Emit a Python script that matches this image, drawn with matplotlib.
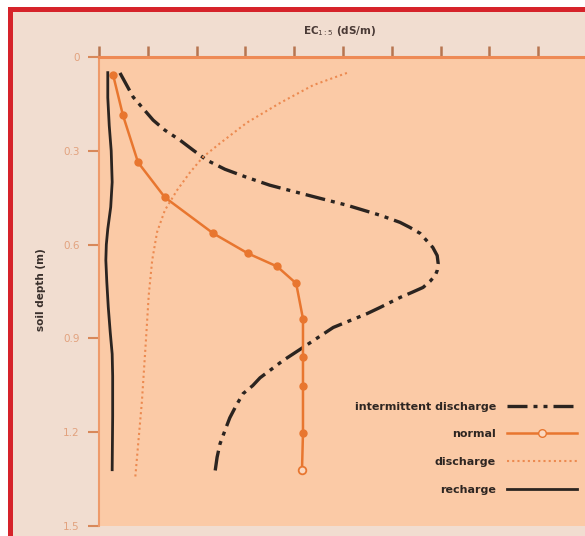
import matplotlib
matplotlib.use("Agg")
import matplotlib.pyplot as plt
from matplotlib.patches import Rectangle

# ---- data (x in tick units of EC1:5, depth in m) ----
recharge_x = [0.18, 0.18, 0.21, 0.25, 0.27, 0.24, 0.18, 0.15, 0.14, 0.16, 0.19, 0.23, 0.27, 0.28, 0.28, 0.27]
recharge_d = [0.05, 0.13, 0.22, 0.30, 0.40, 0.48, 0.55, 0.60, 0.65, 0.72, 0.80, 0.88, 0.95, 1.02, 1.15, 1.32]

discharge_x = [5.08, 4.39, 3.71, 3.03, 2.48, 2.13, 1.86, 1.60, 1.35, 1.19, 1.09, 1.02, 0.96, 0.88, 0.74]
discharge_d = [0.051, 0.09, 0.147, 0.21, 0.276, 0.32, 0.37, 0.426, 0.49, 0.56, 0.65, 0.76, 0.91, 1.10, 1.35]

normal_x = [0.29, 0.49, 0.80, 1.35, 2.34, 3.05, 3.65, 4.04, 4.18, 4.18, 4.18, 4.18, 4.16]
normal_d = [0.058, 0.186, 0.337, 0.449, 0.564, 0.628, 0.670, 0.724, 0.837, 0.958, 1.051, 1.202, 1.32]

inter_x = [0.43, 0.70, 1.11, 1.35, 1.66, 1.93, 2.21, 2.58, 3.03, 3.50, 4.06, 4.53, 5.08, 5.76, 6.17,
           6.37, 6.58, 6.84, 6.93, 6.95, 6.93, 6.89, 6.78, 6.64, 6.41, 6.17, 5.76, 5.49, 4.80, 4.18,
           3.77, 3.30, 3.15, 2.95, 2.81, 2.68, 2.58, 2.48, 2.42, 2.38]
inter_d = [0.051, 0.128, 0.202, 0.234, 0.266, 0.298, 0.330, 0.359, 0.385, 0.410, 0.433, 0.452, 0.474, 0.506, 0.529,
           0.545, 0.564, 0.609, 0.635, 0.660, 0.683, 0.699, 0.718, 0.737, 0.753, 0.769, 0.801, 0.821, 0.865, 0.929,
           0.971, 1.026, 1.051, 1.077, 1.115, 1.154, 1.195, 1.237, 1.280, 1.324]

y_ticks = [0, 0.3, 0.6, 0.9, 1.2, 1.5]
y_tick_labels = ["0", "0.3", "0.6", "0.9", "1.2", "1.5"]
x_ticks = [0, 1, 2, 3, 4, 5, 6, 7, 8, 9, 10]

W, H = 585, 536
fig = plt.figure(figsize=(W / 100, H / 100), dpi=100, facecolor="white")

# frame: red border on left/top, beige inner
fig.patches.append(Rectangle((8 / W, -0.1), 1.2, (H - 7) / H + 0.1, transform=fig.transFigure,
                             facecolor="#d6232a", edgecolor="none", zorder=-3))
fig.patches.append(Rectangle((13 / W, -0.1), 1.2, (H - 12) / H + 0.1, transform=fig.transFigure,
                             facecolor="#f1ddd0", edgecolor="none", zorder=-2))

ax = fig.add_axes([99 / W, (H - 526) / H, 488 / W, (526 - 57) / H])
ax.set_facecolor("#fbcaa6")

orange = "#e8762f"
dark = "#2b2420"

ax.plot(inter_x, inter_d, color=dark, lw=2.4, linestyle=(0, (6, 1.8, 1.2, 1.8, 1.2, 1.8)),
        label="intermittent discharge")
ax.plot(normal_x[:-1], normal_d[:-1], color=orange, lw=1.8, marker="o", ms=5,
        markerfacecolor=orange, markeredgecolor=orange)
ax.plot(normal_x[-2:], normal_d[-2:], color=orange, lw=1.8)
ax.plot(normal_x[-1:], normal_d[-1:], linestyle="none", marker="o", ms=5.5,
        markerfacecolor="#fbd8c0", markeredgecolor=orange, markeredgewidth=1.3)
ax.plot([], [], color=orange, lw=1.8, marker="o", ms=5.5, markerfacecolor="#fbd8c0",
        markeredgecolor=orange, markevery=[0, -1], label="normal")
ax.plot(discharge_x, discharge_d, color="#ec8a50", lw=1.5, linestyle=(0, (1, 1.5)), label="discharge")
ax.plot(recharge_x, recharge_d, color=dark, lw=2.0, label="recharge")

ax.set_xlim(0, 10)
ax.set_ylim(1.5, 0)

for s in ["bottom", "right"]:
    ax.spines[s].set_visible(False)
ax.spines["top"].set_color("#ee8a55")
ax.spines["top"].set_linewidth(2.2)
ax.spines["left"].set_color("#ee9a6a")
ax.spines["left"].set_linewidth(1.5)

ax.xaxis.tick_top()
ax.set_xticks(x_ticks)
ax.set_xticklabels([])
ax.tick_params(axis="x", which="both", direction="out", length=8, width=1.8, color="#b77550", top=True, bottom=False)

ax.set_yticks(y_ticks)
ax.set_yticklabels(y_tick_labels)
ax.tick_params(axis="y", direction="out", length=8, width=1.5, color="#d8885a", pad=6,
               labelsize=7.5, labelcolor="#e2a27e")

fig.text(340 / W, 1 - 31 / H, r"EC$_{1:5}$ (dS/m)", ha="center", va="center", fontsize=7.5,
         color="#4a3a36", fontweight="bold")
fig.text(41 / W, 1 - 290 / H, "soil depth (m)", ha="center", va="center", rotation=90,
         fontsize=7.5, color="#3a302c", fontweight="bold")

leg_handles, leg_labels = ax.get_legend_handles_labels()
leg = ax.legend(leg_handles, leg_labels, loc="lower right", bbox_to_anchor=(1.0, 0.045),
                frameon=False, markerfirst=False, fontsize=8, handlelength=6.3,
                labelspacing=1.6, handletextpad=1.0)
for t in leg.get_texts():
    t.set_color("#2e2622")
    t.set_fontweight("bold")

fig.savefig("out.png", dpi=100, facecolor=fig.get_facecolor())
